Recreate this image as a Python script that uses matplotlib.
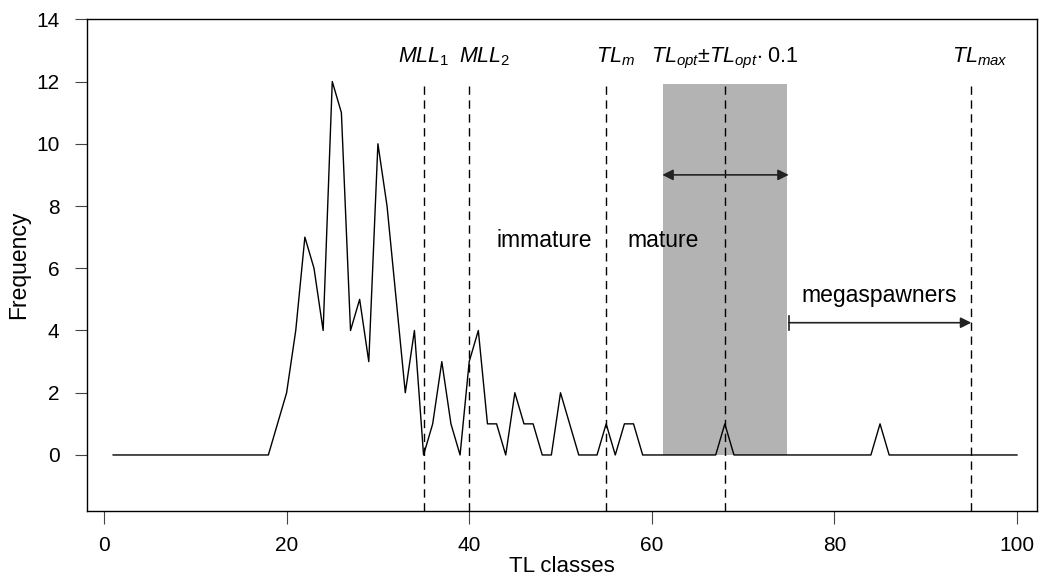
import matplotlib
matplotlib.use("Agg")
import matplotlib.pyplot as plt
from matplotlib.patches import Rectangle

plt.rcParams['font.family'] = ['Liberation Sans', 'DejaVu Sans']
plt.rcParams['mathtext.fontset'] = 'custom'
plt.rcParams['mathtext.rm'] = 'Liberation Sans'
plt.rcParams['mathtext.it'] = 'Liberation Sans:italic'

# Data
tl_classes = list(range(1, 101))
freq = [0]*100
nonzero = {19: 1, 20: 2, 21: 4, 22: 7, 23: 6, 24: 4, 25: 12, 26: 11, 27: 4, 28: 5,
           29: 3, 30: 10, 31: 8, 32: 5, 33: 2, 34: 4, 35: 0, 36: 1, 37: 3, 38: 1,
           39: 0, 40: 3, 41: 4, 42: 1, 43: 1, 44: 0, 45: 2, 46: 1, 47: 1, 48: 0,
           49: 0, 50: 2, 51: 1, 52: 0, 53: 0, 54: 0, 55: 1, 56: 0, 57: 1, 58: 1,
           68: 1, 85: 1}
for k, v in nonzero.items():
    freq[k - 1] = v

marker_x = [35, 40, 55, 68, 95]
marker_labels = [r'$\mathit{MLL}_{\mathit{1}}$', r'$\mathit{MLL}_{\mathit{2}}$',
                 r'$\mathit{TL}_{\mathit{m}}$',
                 r'$\mathit{TL}_{\mathit{opt}}{\pm}\mathit{TL}_{\mathit{opt}}{\cdot}$ 0.1',
                 r'$\mathit{TL}_{\mathit{max}}$']
label_x = [35, 41.7, 56, 68, 95.9]
tl_opt = 68
opt_frac = 0.1
shade_top = 11.92
mega_start = 75.0
mega_end = 95.0
mega_y = 4.25

fig = plt.figure(figsize=(10.47, 5.81), dpi=100)
ax = fig.add_axes([0.0834, 0.1205, 0.9071, 0.8463])

ax.add_patch(Rectangle((tl_opt - tl_opt*opt_frac, 0), 2*tl_opt*opt_frac, shade_top,
                       facecolor='#b3b3b3', edgecolor='none', zorder=1))

ax.plot(tl_classes, freq, color='black', lw=1.0, zorder=3)

for xv in marker_x:
    ax.plot([xv, xv], [-1.8, shade_top], color='black', lw=1.0,
            linestyle=(0, (6, 4)), zorder=2)

for lx, lab in zip(label_x, marker_labels):
    ax.text(lx, 12.6, lab, ha='center', va='baseline', fontsize=15.5)

ax.text(53.5, 6.69, 'immature', ha='right', va='baseline', fontsize=16.5)
ax.text(57.3, 6.69, 'mature', ha='left', va='baseline', fontsize=16.5)
ax.text(84.9, 4.9, 'megaspawners', ha='center', va='baseline', fontsize=16.5)

ax.annotate('', xy=(61.15, 9.0), xytext=(75.0, 9.0),
            arrowprops=dict(arrowstyle='<|-|>', color='#222222', lw=1.2,
                            mutation_scale=16, shrinkA=0, shrinkB=0), zorder=4)
ax.annotate('', xy=(mega_end, mega_y), xytext=(mega_start, mega_y),
            arrowprops=dict(arrowstyle='-|>', color='#222222', lw=1.2,
                            mutation_scale=16, shrinkA=0, shrinkB=0), zorder=4)
ax.plot([mega_start, mega_start], [mega_y - 0.22, mega_y + 0.22], color='#222222', lw=1.2, zorder=4)

ax.set_xlim(-1.83, 102.2)
ax.set_ylim(-1.8, 14)
ax.set_xticks([0, 20, 40, 60, 80, 100])
ax.set_yticks([0, 2, 4, 6, 8, 10, 12, 14])
ax.tick_params(axis='both', length=9, width=0.8, color='#444444', labelsize=15)
ax.tick_params(axis='y', pad=11)
ax.tick_params(axis='x', pad=9)
for s in ax.spines.values():
    s.set_linewidth(1.0)
    s.set_color('black')
ax.set_xlabel('TL classes', fontsize=16, labelpad=1)
ax.set_ylabel('Frequency', fontsize=16.5, labelpad=4)

fig.savefig('out.png', dpi=100)
